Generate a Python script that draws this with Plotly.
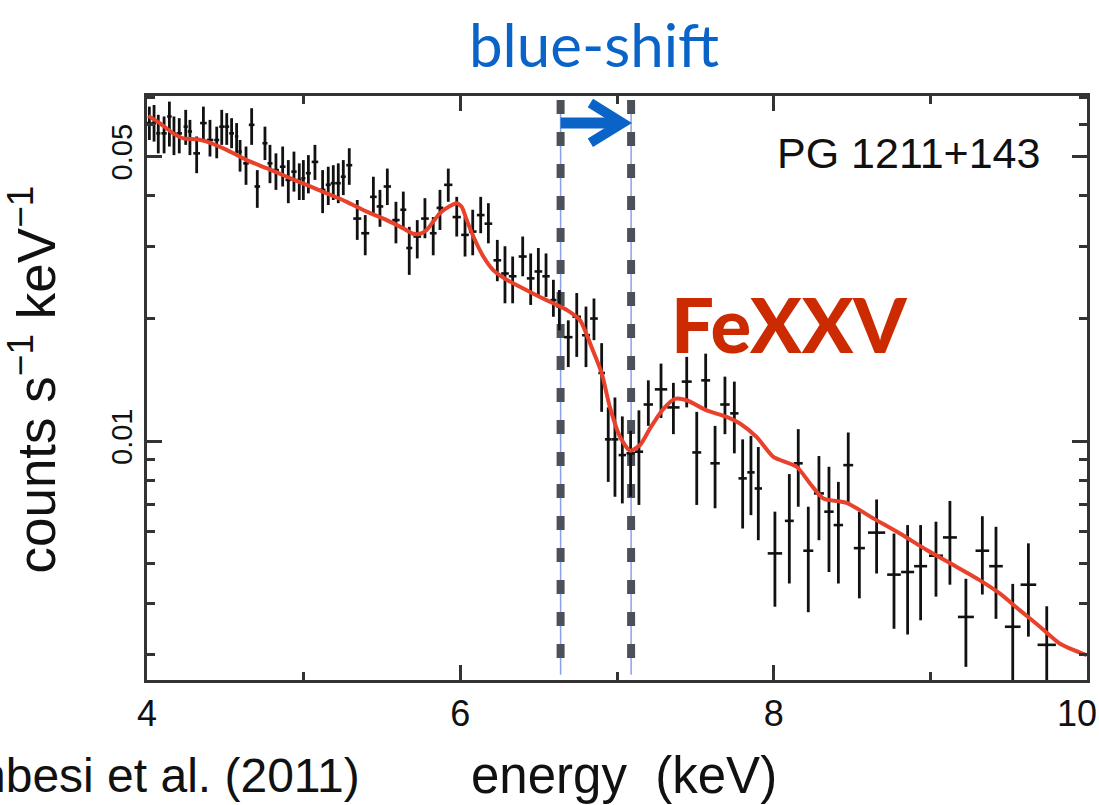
import numpy as np
import plotly.graph_objects as go

# ---------------- data ----------------
energy = [4.015,4.045,4.072,4.109,4.143,4.172,4.206,4.247,4.274,4.317,
          4.360,4.402,4.445,4.477,4.509,4.540,4.572,4.594,4.632,4.668,
          4.704,4.753,4.785,4.823,4.866,4.902,4.938,4.972,4.998,5.030,
          5.072,5.121,5.157,5.189,5.221,5.253,5.291,5.342,5.393,5.445,
          5.487,5.534,5.589,5.636,5.674,5.725,5.774,5.827,5.870,5.923,
          5.977,6.030,6.079,6.130,6.179,6.236,6.285,6.334,6.398,6.449,
          6.498,6.547,6.594,6.632,6.689,6.743,6.802,6.853,6.902,6.944,
          6.987,7.034,7.087,7.140,7.200,7.281,7.360,7.445,7.509,7.566,
          7.626,7.689,7.749,7.802,7.855,7.902,8.008,8.100,8.157,8.221,
          8.289,8.353,8.413,8.476,8.547,8.657,8.768,8.855,8.938,9.036,
          9.125,9.227,9.332,9.419,9.526,9.626,9.743]

counts = [.0604,.0604,.0570,.0570,.0627,.0570,.0570,.0592,.0576,.0509,
          .0604,.0549,.0549,.0592,.0592,.0570,.0560,.0514,.0481,.0598,
          .0422,.0539,.0481,.0463,.0472,.0438,.0459,.0438,.0442,.0455,
          .0485,.0414,.0426,.0430,.0430,.0446,.0476,.0352,.0324,.0398,
          .0377,.0422,.0349,.0370,.0298,.0318,.0352,.0324,.0374,.0426,
          .0355,.0321,.0327,.0359,.0342,.0278,.0258,.0254,.0284,.0251,
          .0261,.0254,.0222,.0214,.0180,.0202,.0182,.0200,.0147,.0101,
          .0101,.00924,.00933,.00942,.0123,.0134,.0121,.0140,.00938,.0141,
          .00882,.0123,.0117,.00810,.00838,.00765,.00530,.00637,.00882,.00538,
          .00744,.00671,.00622,.00873,.00546,.00596,.00470,.00477,.00493,.00523,
          .00580,.00370,.00538,.00493,.00350,.00444,.00316]

counts_hi = [.0663,.0669,.0633,.0627,.0682,.0627,.0621,.0651,.0615,.0560,
             .0663,.0615,.0592,.0651,.0639,.0621,.0604,.0549,.0529,.0657,
             .0463,.0592,.0534,.0509,.0529,.0490,.0514,.0481,.0490,.0504,
             .0534,.0463,.0472,.0476,.0481,.0490,.0524,.0391,.0359,.0446,
             .0414,.0467,.0387,.0410,.0336,.0349,.0395,.0355,.0414,.0467,
             .0398,.0355,.0370,.0398,.0384,.0312,.0301,.0284,.0318,.0289,
             .0298,.0289,.0249,.0235,.0198,.0231,.0214,.0224,.0174,.0121,
             .0128,.0115,.0106,.0119,.0141,.0155,.0139,.0161,.0118,.0164,
             .0109,.0144,.0140,.0101,.0103,.00967,.00671,.00830,.0107,.00690,
             .00919,.00865,.00794,.0105,.00671,.00719,.00593,.00622,.00622,.00634,
             .00713,.00459,.00654,.00616,.00446,.00561,.00393]

counts_lo = [.0549,.0544,.0509,.0509,.0529,.0504,.0509,.0534,.0504,.0455,
             .0549,.0500,.0495,.0534,.0534,.0524,.0509,.0459,.0426,.0534,
             .0374,.0490,.0430,.0414,.0422,.0384,.0410,.0391,.0391,.0406,
             .0438,.0363,.0380,.0391,.0384,.0402,.0426,.0312,.0286,.0363,
             .0336,.0380,.0306,.0330,.0256,.0281,.0315,.0286,.0330,.0387,
             .0318,.0284,.0286,.0324,.0306,.0247,.0218,.0218,.0254,.0216,
             .0228,.0226,.0202,.0187,.0152,.0161,.0152,.0177,.0118,.00794,
             .00730,.00703,.00730,.00697,.0109,.0114,.0104,.0121,.00697,.0119,
             .00684,.0104,.00933,.00610,.00658,.00571,.00392,.00447,.00690,.00380,
             .00571,.00477,.00447,.00709,.00411,.00473,.00346,.00335,.00363,.00415,
             .00444,.00279,.00420,.00366,.00245,.00331,.00245]

model_energy = [4.008,4.083,4.168,4.232,4.317,4.381,4.509,4.636,4.764,4.892,
                5.019,5.147,5.275,5.402,5.530,5.636,5.700,5.743,5.785,5.827,
                5.870,5.934,5.977,6.009,6.041,6.083,6.147,6.210,6.296,6.402,
                6.508,6.593,6.679,6.764,6.838,6.902,6.955,7.019,7.083,7.147,
                7.211,7.296,7.370,7.445,7.572,7.700,7.785,7.892,7.998,8.147,
                8.232,8.317,8.466,8.636,8.806,8.977,9.147,9.317,9.445,9.572,
                9.700,9.828,9.998]
model_counts = [.0629,.0603,.0570,.0554,.0551,.0544,.0519,.0490,.0468,.0446,
                .0426,.0406,.0387,.0366,.0349,.0333,.0323,.0323,.0330,.0346,
                .0363,.0378,.0384,.0376,.0349,.0318,.0284,.0263,.0249,.0237,
                .0226,.0218,.0210,.0198,.0170,.0147,.0121,.01025,.00947,.00978,
                .01075,.0120,.0127,.0126,.0119,.01147,.01105,.01023,.00915,.00865,
                .00787,.00723,.00705,.00646,.00593,.00540,.00496,.00455,.00422,.00384,
                .00350,.00318,.00298]

line_energies = [6.64, 7.09]          # rest-frame and blue-shifted Fe XXV
x_tickvals = [4, 6, 8, 10]
x_ticktext = ["4", "6", "8", "10\u2007"]
x_minor = [5, 7, 9]
y_tickvals = [0.01, 0.05]
y_ticktext = ["0.01", "0.05"]
y_minor = [0.003, 0.004, 0.005, 0.006, 0.007, 0.008, 0.009,
           0.02, 0.03, 0.04, 0.06, 0.07]

# ---------------- figure ----------------
E = np.array(energy)
c = np.array(counts)
hi = np.array(counts_hi)
lo = np.array(counts_lo)
gaps = np.diff(E)
left = np.concatenate([[gaps[0]], gaps])
right = np.concatenate([gaps, [gaps[-1]]])
xerr = 0.5 * np.minimum(left, right)

fig = go.Figure()

# dashed reference lines (thin blue core + thick gray dashes)
for e in line_energies:
    fig.add_shape(type="line", xref="x", yref="paper", x0=e, x1=e, y0=0.993, y1=0.009,
                  line=dict(color="#8aa2e6", width=1.5), layer="below")
    fig.add_shape(type="line", xref="x", yref="paper", x0=e, x1=e, y0=0.993, y1=0.009,
                  line=dict(color="#4b5059", width=8, dash="14px,18px"), layer="below")

fig.add_trace(go.Scatter(
    x=E, y=c, mode="markers",
    marker=dict(size=1, color="#111111"),
    error_y=dict(type="data", symmetric=False, array=hi - c, arrayminus=c - lo,
                 color="#111111", thickness=2.8, width=0),
    error_x=dict(type="data", array=xerr, color="#111111", thickness=2.6, width=0),
    showlegend=False, hoverinfo="skip"))

fig.add_trace(go.Scatter(
    x=model_energy, y=model_counts, mode="lines",
    line=dict(color="#e8412c", width=4, shape="spline", smoothing=0.6),
    showlegend=False, hoverinfo="skip"))

# blue-shift arrow
arrow_y = 0.9538
fig.add_shape(type="line", xref="x", yref="paper", x0=6.64, x1=7.03, y0=arrow_y, y1=arrow_y,
              line=dict(color="#0a64c8", width=11))
fig.add_shape(type="path", xref="x", yref="paper",
              path=f"M 6.83,0.988 L 7.035,{arrow_y} L 6.83,0.920",
              line=dict(color="#0a64c8", width=10))

def note(text, x, y, size, family, color="#111111", xanchor="center", **kw):
    fig.add_annotation(text=text, xref="paper", yref="paper", x=x, y=y,
                       xanchor=xanchor, yanchor="middle", showarrow=False,
                       font=dict(family=family, size=size, color=color, **kw.pop("fontkw", {})), **kw)

sans = "Liberation Sans, Arial, sans-serif"
note("blue-shift", 0.4755, 1.089, 60, "Lato, Open Sans, sans-serif", color="#0a64c8")
note("FeXXV", 0.683, 0.611, 76, "Lato, Open Sans, sans-serif", color="#cc2a00",
     fontkw=dict(weight=900))
note("PG 1211+143", 0.8096, 0.9024, 43, sans)
note("energy  (keV)", 0.5075, -0.163, 51, sans)
note("Tombesi et al. (2011)", 0.2287, -0.163, 48, sans, xanchor="right")
note("counts s<sup>\u22121</sup> keV<sup>\u22121</sup>", -0.122, 0.515, 53, sans, textangle=-90)

axis_col = "#333333"
fig.update_xaxes(range=[4, 10], showgrid=False, zeroline=False, automargin=False,
                 showline=True, linecolor=axis_col, linewidth=3, mirror="ticks",
                 ticks="inside", ticklen=15, tickwidth=2.5, tickcolor=axis_col,
                 tickvals=x_tickvals, ticktext=x_ticktext, ticklabeloverflow="allow",
                 tickfont=dict(family=sans, size=36, color="#111111"),
                 minor=dict(tickvals=x_minor, ticks="inside", ticklen=8, tickwidth=2.5, tickcolor=axis_col))
fig.update_yaxes(type="log", range=[np.log10(0.00259), np.log10(0.0704)], showgrid=False, zeroline=False,
                 automargin=False,
                 showline=True, linecolor=axis_col, linewidth=3, mirror="ticks",
                 ticks="inside", ticklen=15, tickwidth=2.5, tickcolor=axis_col,
                 tickvals=y_tickvals, ticktext=y_ticktext, tickangle=-90,
                 tickfont=dict(family=sans, size=29, color="#111111"),
                 minor=dict(tickvals=y_minor, ticks="inside", ticklen=8, tickwidth=2.5, tickcolor=axis_col))

fig.update_layout(width=1099, height=805, autosize=False,
                  margin=dict(l=147, r=12, t=96, b=125),
                  plot_bgcolor="white", paper_bgcolor="white")

fig.write_html("out.html")
